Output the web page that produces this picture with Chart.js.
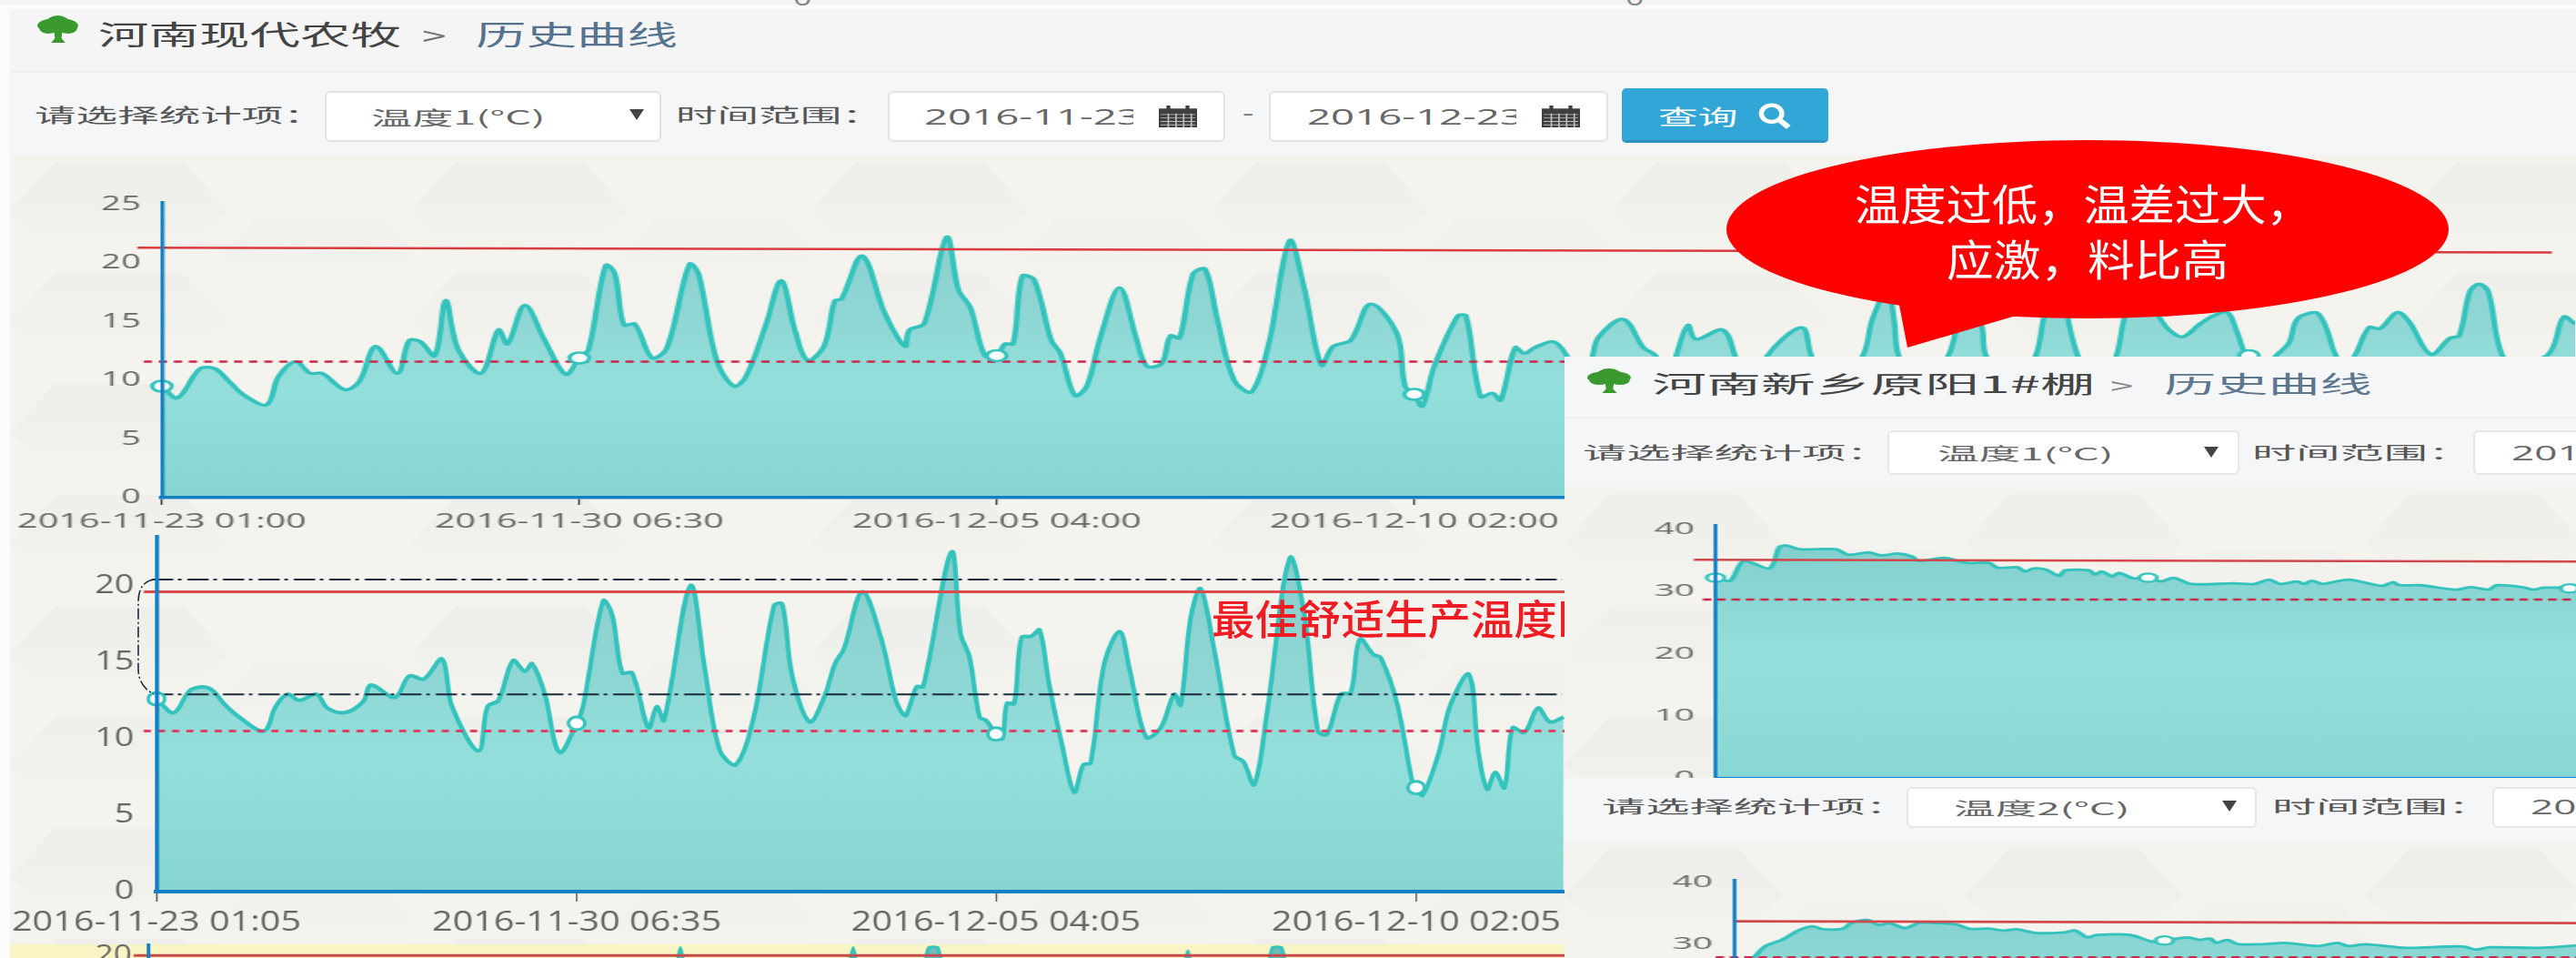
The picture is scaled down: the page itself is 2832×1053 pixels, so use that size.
<!DOCTYPE html>
<html><head><meta charset="utf-8">
<style>
html,body{margin:0;padding:0;background:#fff;width:2832px;height:1053px;overflow:hidden}
#stage{position:relative;width:2832px;height:1053px;overflow:hidden;filter:blur(.55px);background:#fbfbfb}
.box{position:absolute;box-sizing:border-box}
.tx{position:absolute;white-space:pre;transform-origin:0 50%;font-family:"Noto Sans CJK SC","Open Sans",sans-serif}
.num{font-family:"Open Sans","Noto Sans CJK SC",sans-serif}
canvas{position:absolute;left:0;top:0;transform-origin:0 0}
</style>
<script src="https://cdn.jsdelivr.net/npm/chart.js@4"></script>
</head><body><div id="stage"></div>
<script>
// ---------- data (x = sample number along the time axis) ----------
const x1 = [0,17,42,58,74,90,115,128,147,163,176,201,217,235,259,272,284,300,312,326,351,370,380,399,421,444,459,469,488,498,508,520,539,555,580,590,610,629,642,664,681,696,710,728,740,747,770,795,817,822,838,863,876,889,905,918,927,936,946,959,978,988,1004,1017,1032,1053,1071,1083,1099,1109,1119,1134,1147,1160,1179,1198,1217,1240,1256,1275,1288,1307,1329,1358,1367,1377,1386,1399,1425,1434,1450,1463,1472,1488,1498,1510,1530,1544,1560,1573,1580,1607,1629,1643,1654,1665,1678,1687,1716,1730,1748,1765,1803,1814,1838,1870,1880,1890,1897,1905,1910,1935,1964,1973,1985,1998,2002,2006,2035,2060,2069,2085,2096,2107,2128,2149,2158,2172,2197,2207,2222,2241,2256,2271,2281,2290,2295,2303,2315,2326,2339,2349,2371,2390,2400,2412,2427,2439,2458,2471,2495,2516,2526,2538,2548,2558,2573,2590,2624,2641,2654];
const y1 = [9.5,8.5,11,11,9.9,8.75,7.9,10.3,11.6,10.6,10.6,9.2,9.9,12.9,10.6,13.4,13.3,12.1,16.8,12.6,10.6,14.3,13.1,16.4,13.4,10.5,11.9,12.6,19.8,19.1,14.7,14.8,11.9,12.7,19.9,19.1,11.7,9.5,10.3,14.7,18.5,14.3,11.7,12.9,16.8,16.9,20.6,15.7,12.9,14.3,14.8,22.2,17.7,16.2,12.1,12.1,13.1,13.1,18.9,18.6,13.4,12.3,8.7,9.5,13.7,17.9,13.7,11.2,11.4,13.8,13.6,19.1,19.5,15.4,10,9,13.1,21.9,17.9,11.3,12.9,13.4,16.5,14,9.5,8.8,7.8,11.2,15.5,15.5,8.6,8.9,8.3,12.8,12.3,12.8,13.3,12.2,9.5,12.06,13.7,15.2,12.8,12.06,9,12.06,14.7,13.5,14.3,12.06,8.5,12.06,14.5,12.06,9,12.06,15,17,18.5,15,12.06,9,12.06,14.3,18,15.5,14.3,12.06,9,12,15.2,20,15.2,12.06,9,12.06,15.3,18,15.3,14.3,13.7,14.8,15.5,15.8,14.3,12.4,12.1,11.9,11.4,12.2,13.2,15.3,15.7,12.2,11,12.2,14.5,14.4,15.8,15,12.2,13.6,13.8,17.6,18.2,17.6,12.2,11.5,12.2,15.4,14.8];
const mark1x = [0,459,918,1377,2295];
const mark1y = [9.5,11.9,12.1,8.8,12.1];
const high1x = [-27,2628]; const high1y = [21.3,20.9];
const low1x = [-20,2654];  const low1y = [11.6,11.6];
const ticks1 = [0,459,918,1377];
const labels1 = ["2016-11-23 01:00","2016-11-30 06:30","2016-12-05 04:00","2016-12-10 02:00"];

const x2 = [0,19,38,58,74,89,118,131,144,157,176,188,207,227,236,262,278,294,314,325,354,364,376,392,405,413,427,443,462,469,491,501,512,523,541,550,558,587,603,619,637,657,679,688,699,718,734,746,756,776,797,813,823,828,836,843,874,884,894,905,912,923,930,935,943,951,962,971,981,996,1009,1019,1027,1042,1059,1070,1088,1104,1119,1126,1137,1148,1162,1185,1195,1207,1221,1246,1262,1277,1287,1302,1313,1323,1338,1346,1364,1381,1385,1392,1410,1422,1443,1453,1463,1472,1482,1491,1504,1519,1532,1547];
const y2 = [12.6,11.7,13.2,13.3,12.3,11.5,10.5,12.1,12.9,12.5,12.9,12,11.7,12.4,13.5,12.7,14.1,13.9,15.2,12.1,9.2,12.1,12.5,15.1,14.4,14.9,12.9,9.1,11,12.1,19,18.1,14.3,14.3,10.7,12.1,11.2,20,14.5,9.3,8.3,11.5,18.7,18.8,14.1,11.1,12.7,14.9,15.9,19.6,16.5,12.5,11.5,12.1,13.4,13.4,22.2,16.9,15.3,11.4,11.2,10.3,10,12.3,12.3,16.6,16.7,17.1,13.7,9.5,6.5,8.3,8.4,14.9,17,14.5,10.1,10.7,12.9,12.2,17.9,19.8,16.1,8.9,8.5,7,11.7,21.8,18.1,10.5,10.3,12.9,13,16.5,15.5,15.3,12.3,7.1,6.8,6.3,9.1,12.1,14.2,9.3,6.7,7.8,6.8,10.7,10.4,12,11.1,11.4];
const mark2x = [0,462,923,1385];
const mark2y = [12.6,11,10.3,6.8];
const high2x = [-14,1548]; const high2y = [19.6,19.6];
const low2x = [-14,1548];  const low2y = [10.5,10.5];
const band2x = [-5,1545];
const bandTop2y = [20.4,20.4];
const bandBottom2y = [12.9,12.9];
const ticks2 = [0,462,923,1385];
const labels2 = ["2016-11-23 01:05","2016-11-30 06:35","2016-12-05 04:05","2016-12-10 02:05"];

const x3 = [0,16,31,59,70,78,92,132,146,168,182,200,216,223,251,275,300,310,331,340,349,363,377,384,410,417,424,436,443,459,475,489,503,522,569,592,608,620,639,646,655,667,695,732,744,751,774,812,830,849,858,886,898,910,928,938,946];
const y3 = [32.2,31.7,34.9,33.7,37.1,37.4,36.8,36.8,35.9,36.3,35.8,36.1,35.6,34.9,35.4,34.6,34.6,33.8,33.9,33.2,33.7,33.5,32.5,33.4,33.4,32.7,33.2,32.4,33,32.1,32.2,31.6,32.2,31.2,31.3,31.2,31.9,31.2,31.6,31.2,31.7,31.2,31.9,30.9,31.5,31,31,30.3,30.7,30.3,31,30.7,30.3,30.6,30.6,30.5,30.6];
const mark3x = [0,475,938];
const mark3y = [32.2,32.2,30.5];
const high3x = [-24,946]; const high3y = [35.1,34.8];
const low3x = [-14,946];  const low3y = [28.7,28.7];

const x4 = [0,23,35,53,71,86,98,120,129,147,159,171,188,205,223,244,259,281,296,311,332,363,375,388,399,435,460,473,499,511,523,530,542,554,581,605,642,663,675,694,739,782,803,815,830,885,926];
const y4 = [25,28,29.7,30.7,32.2,32.9,32.4,32.5,33.4,33.9,33.1,33.4,32.6,33.5,33.4,33.2,32.5,32.5,32.2,32.4,31.8,31.9,32.2,31.1,31.5,31.5,30.4,30.6,31.1,30.7,30.9,30.2,30.7,30,30,30.2,29.7,30.2,29.7,30,29.4,29.6,29.6,29.1,29.5,29.4,29.8];
const mark4x = [473];
const mark4y = [30.6];
const high4x = [0,926]; const high4y = [33.7,33.4];
const low4x = [-20,926]; const low4y = [27.9,27.9];

const x5 = [0,570,578,585,592,600,760,768,775,782,790,848,853,858,868,873,880,1128,1136,1143,1150,1158,1226,1231,1236,1246,1251,1258,1557];
const y5 = [12,12,18,20.5,18,12,12,18,20.5,18,12,12,19,20.5,20.5,19,12,12,18,20.3,18,12,12,19,20.5,20.5,19,12,12];
const high5x = [-16,1557]; const high5y = [20,20];

// ---------- helpers ----------
const stage = document.getElementById('stage');
const TEAL = '#33c3bc', AX = '#1480c4', CJK = '"Noto Sans CJK SC","Open Sans",sans-serif', LAT = '"Open Sans","Noto Sans CJK SC",sans-serif';
const pts = (xs, ys) => xs.map((x, i) => ({x, y: ys[i]}));
function div(l, t, w, h, css, parent) {
  const d = document.createElement('div');
  d.className = 'box';
  d.style.cssText = `left:${l}px;top:${t}px;width:${w}px;height:${h}px;` + (css || '');
  (parent || stage).appendChild(d);
  return d;
}
function text(x, cy, s, size, color, sx, opts) {
  opts = opts || {};
  const e = document.createElement('div');
  e.className = 'tx' + (opts.num ? ' num' : '');
  e.textContent = s;
  const lh = size * 1.5;
  e.style.cssText += `left:${x}px;top:${cy - lh / 2}px;line-height:${lh}px;font-size:${size}px;color:${color};transform:scaleX(${sx});` +
    (opts.w ? `width:${opts.w}px;overflow:hidden;` : '') + (opts.weight ? `font-weight:${opts.weight};` : '');
  (opts.parent || stage).appendChild(e);
  return e;
}
function svg(l, t, w, h, inner, vb) {
  const wrap = document.createElement('div');
  wrap.className = 'box';
  wrap.style.cssText = `left:${l}px;top:${t}px;width:${w}px;height:${h}px;`;
  wrap.innerHTML = `<svg xmlns="http://www.w3.org/2000/svg" width="${w}" height="${h}" viewBox="${vb || `0 0 ${w} ${h}`}" preserveAspectRatio="none" style="display:block;overflow:visible">${inner}</svg>`;
  stage.appendChild(wrap);
}
const tree = (l, t, w, h) => svg(l, t, w, h,
  '<ellipse cx="22" cy="11" rx="22" ry="8" fill="#3a9a2f"/><ellipse cx="22" cy="9" rx="13" ry="9" fill="#3a9a2f"/><ellipse cx="12" cy="14" rx="10" ry="6" fill="#3a9a2f"/><ellipse cx="33" cy="14" rx="10" ry="6" fill="#3a9a2f"/><path d="M18 17h9l-1 8 4 5H15l4-5z" fill="#3a9a2f"/>', '0 0 45 31');
const cal = (l, t, w, h) => svg(l, t, w, h,
  '<rect x="0" y="3" width="20" height="19" fill="#3f3f3f"/><rect x="4" y="0" width="2" height="5" fill="#3f3f3f"/><rect x="14" y="0" width="2" height="5" fill="#3f3f3f"/><path d="M1 9H19M1 12.5H19M1 16H19M1 19.5H19M5 8V22M9 8V22M13 8V22M17 8V22" stroke="#bdbdbd" stroke-width=".8" fill="none"/>', '0 0 20 22');
const caret = (cx, cy) => svg(cx - 8, cy - 6, 16, 12, '<path d="M0 0H16L8 12z" fill="#444"/>');

const tile = encodeURIComponent(`<svg xmlns="http://www.w3.org/2000/svg" width="440" height="244"><defs><linearGradient id="g" x1="0" x2="0" y1="0" y2="1"><stop offset="0" stop-color="#eeeeea"/><stop offset=".55" stop-color="#f1f1ec"/><stop offset="1" stop-color="#f5f3ee"/></linearGradient></defs><rect width="440" height="244" fill="#f5f3ee"/><path d="M50 8H190L240 61 190 114H50L0 61z" fill="url(#g)"/><path d="M270 69H410L440 100V144L410 175H270L220 122z" fill="url(#g)" opacity=".55"/><path d="M50 130H190L240 183 190 236H50L0 183z" fill="url(#g)" opacity=".75"/></svg>`);
const hexBg = `background:#f5f3ee url("data:image/svg+xml,${tile}");`;

function makeChart(cfg) {
  const wrap = div(cfg.left, cfg.top, cfg.width, cfg.height, 'overflow:hidden;');
  const cv = document.createElement('canvas');
  cv.width = Math.round(cfg.canvasW / cfg.sx);
  cv.height = cfg.canvasH;
  wrap.appendChild(cv);
  const fillGrad = c => {
    const a = c.chart.chartArea;
    if (!a) return '#8fdcd8';
    const g = c.chart.ctx.createLinearGradient(0, a.top, 0, a.bottom);
    (cfg.stops || [[0, '#88cccc'], [.4, '#8fd7d5'], [.62, '#93dfdb'], [1, '#87d5d2']]).forEach(s => g.addColorStop(s[0], s[1]));
    return g;
  };
  const refLine = (xs, ys, color, w, dash) => ({data: pts(xs, ys), borderColor: color, borderWidth: w, borderDash: dash || [], pointRadius: 0, fill: false, tension: 0, clip: false, order: 1});
  const ds = [{data: pts(cfg.x, cfg.y), borderColor: TEAL, borderWidth: cfg.lw, backgroundColor: fillGrad, fill: 'origin', pointRadius: 0, tension: cfg.tension, order: 3}];
  cfg.lines.forEach(l => ds.push(refLine.apply(null, l)));
  if (cfg.mx) ds.push({data: pts(cfg.mx, cfg.my), showLine: false, pointRadius: cfg.mr, pointBackgroundColor: '#fdfdfd', pointBorderColor: '#35c4bd', pointBorderWidth: cfg.mw, clip: false, order: 0});
  new Chart(cv, {
    type: 'line',
    data: {datasets: ds},
    options: {
      responsive: false, animation: false, devicePixelRatio: 1,
      layout: {autoPadding: false, padding: {top: cfg.padTop, left: 0, right: 0, bottom: 0}},
      plugins: {legend: {display: false}, tooltip: {enabled: false}, title: {display: false}},
      scales: {
        x: {
          type: 'linear', min: 0, max: cfg.xMax,
          afterBuildTicks: s => { s.ticks = (cfg.ticks || []).map(v => ({value: v})); },
          afterFit: s => { s.height = cfg.xH; s.paddingLeft = 0; s.paddingRight = 0; },
          grid: {display: true, drawOnChartArea: false, drawTicks: true, tickLength: cfg.tickLen, color: '#444', lineWidth: 1.2, z: 1},
          border: {display: true, color: AX, width: cfg.axisX, z: 2},
          ticks: {autoSkip: false, maxRotation: 0, minRotation: 0, includeBounds: false, padding: cfg.xPad, color: '#666',
            font: {family: LAT, size: cfg.xFont || cfg.font},
            callback: v => { const i = (cfg.ticks || []).indexOf(v); return i >= 0 ? cfg.labels[i] : ''; }}
        },
        y: {
          min: 0, max: cfg.yMax,
          afterFit: s => { s.width = cfg.plotLeft / cfg.sx; s.paddingTop = 0; s.paddingBottom = 0; },
          grid: {display: false, drawTicks: false},
          border: {display: true, color: AX, width: cfg.axisY, z: 2},
          ticks: {stepSize: cfg.step, includeBounds: false, padding: cfg.yPad, color: '#666', font: {family: LAT, size: cfg.font}}
        }
      }
    }
  });
  cv.style.transform = `scaleX(${cfg.sx})`;
}

// ---------- left panel ----------
div(0, 0, 2832, 5, 'background:#f3f3f3;');
text(872, -3, '0', 24, '#888', 1.5, {num: true});
text(1787, -3, '0', 24, '#888', 1.5, {num: true});
div(11, 10, 2821, 70, 'background:#f5f5f6;border-bottom:2px solid #efefef;');
div(11, 80, 2821, 90, 'background:#f5f6f8;');
div(11, 170, 2821, 868, hexBg);
div(11, 1038, 1709, 15, 'background:#f8f4c4;');

tree(41, 17, 46, 31);
text(108, 36, '河南现代农牧', 30, '#444', 1.85);
text(464, 38, '>', 28, '#777', 1.7);
text(523, 36, '历史曲线', 30, '#55738f', 1.85);

text(38, 126, '请选择统计项：', 21, '#555', 2.17);
div(357, 100, 370, 56, 'background:#fff;border:2px solid #e3e3e3;border-radius:6px;');
text(408, 129, '温度1(°C)', 21, '#666', 2.15);
caret(700, 126);
text(743, 126, '时间范围：', 21, '#555', 2.17);
div(976, 100, 371, 56, 'background:#fff;border:2px solid #e3e3e3;border-radius:6px;');
text(1016, 128, '2016-11-23', 24, '#666', 1.9, {num: true, w: 121});
cal(1274, 116, 42, 24);
text(1366, 124, '-', 24, '#777', 1.6, {num: true});
div(1395, 100, 373, 56, 'background:#fff;border:2px solid #e3e3e3;border-radius:6px;');
text(1437, 128, '2016-12-23', 24, '#666', 1.9, {num: true, w: 121});
cal(1695, 116, 42, 24);
div(1783, 97, 227, 60, 'background:#32a6d6;border-radius:5px;border-bottom:3px solid #2a93c2;');
text(1823, 127, '查询', 23, '#fff', 1.9);
svg(1925, 113, 48, 28, '<circle cx="17" cy="11" r="8.5" stroke="#fff" stroke-width="4" fill="none" /><path d="M23 17L31 25" stroke="#fff" stroke-width="5"/>', '0 0 36 26');

// ---------- charts left ----------
makeChart({left: 0, top: 210, width: 2832, height: 380, canvasW: 2832, canvasH: 380, sx: 1.8, plotLeft: 178, padTop: 12, xH: 43,
  x: x1, y: y1, mx: mark1x, my: mark1y, mr: 6, mw: 2.6, lw: 3.4, tension: .35, xMax: 2654, yMax: 25.2, step: 5,
  ticks: ticks1, labels: labels1, font: 21, xFont: 22, tickLen: 8, xPad: 6, yPad: 13, axisX: 3.5, axisY: 2.4,
  lines: [[high1x, high1y, '#d93c3c', 2.5], [low1x, low1y, '#c9264a', 2.5, [5, 4.2]]]});

makeChart({left: 0, top: 585, width: 1720, height: 455, canvasW: 1720, canvasH: 455, sx: 1.3, plotLeft: 172, padTop: 5, xH: 60,
  x: x2, y: y2, mx: mark2x, my: mark2y, mr: 7, mw: 3, lw: 4, tension: .35, xMax: 1548, yMax: 23.2, step: 5,
  ticks: ticks2, labels: labels2, font: 29, xFont: 30.5, tickLen: 11, xPad: 5, yPad: 19, axisX: 4, axisY: 3.5,
  lines: [[high2x, high2y, '#dc4a4a', 3], [low2x, low2y, '#df3f63', 3, [6, 6]],
          [band2x, bandTop2y, '#1b2b3c', 2, [18, 4, 3, 5]], [band2x, bandBottom2y, '#1b2b3c', 2, [18, 4, 3, 5]]]});

makeChart({left: 0, top: 1035, width: 1720, height: 18, canvasW: 1720, canvasH: 380, sx: 1.3, plotLeft: 163, padTop: 3, xH: 12,
  x: x5, y: y5, lw: 3, tension: .2, xMax: 1557, yMax: 20.7, step: 5,
  ticks: [], labels: [], font: 27, tickLen: 4, xPad: 2, yPad: 14, axisX: 2, axisY: 3,
  stops: [[0, '#6fbcbc'], [1, '#7fcfcd']],
  lines: [[high5x, high5y, '#c9484c', 3]]});

svg(145, 630, 30, 140, '<path d="M24 7Q7 10 7 32L7 105Q7 124 24 133" stroke="#1b2b3c" stroke-width="1.6" stroke-dasharray="12 3 2 3" fill="none"/>');
text(1332, 679, '最佳舒适生产温度区', 45, '#f01c24', 1.055, {weight: 500});

// ---------- callout ----------
svg(1880, 140, 830, 260, '<ellipse cx="415" cy="112" rx="397" ry="98" fill="#ff0000"/><path d="M206 185L217 242L343 205z" fill="#ff0000"/>');
text(2039, 222, '温度过低，温差过大，', 47, '#fff', 1.07);
text(2140, 283, '应激，料比高', 47, '#fff', 1.1);

// ---------- right panel ----------
div(1720, 392, 1112, 661, 'background:#f5f6f8;');
div(1720, 458, 1112, 2, 'background:#efefef;');
div(1720, 535, 1112, 320, hexBg);
tree(1745, 405, 49, 28);
text(1816, 420, '河南新乡原阳1#棚', 26, '#444', 2.31);
text(2320, 423, '>', 24, '#888', 1.9);
text(2379, 420, '历史曲线', 26, '#5d7690', 2.2);

text(1740, 497, '请选择统计项：', 19, '#555', 2.54);
div(2075, 473, 387, 49, 'background:#fff;border:2px solid #e6e6e6;border-radius:6px;');
text(2130, 498, '温度1(°C)', 19, '#666', 2.4);
caret(2431, 497);
text(2476, 497, '时间范围：', 19, '#555', 2.54);
div(2719, 473, 140, 49, 'background:#fff;border:2px solid #e6e6e6;border-radius:6px;');
text(2761, 499, '2016-11-23', 21, '#666', 2.1, {num: true});

makeChart({left: 1720, top: 565, width: 1112, height: 290, canvasW: 1112, canvasH: 320, sx: 2.1, plotLeft: 166, padTop: 12, xH: 30,
  x: x3, y: y3, mx: mark3x, my: mark3y, mr: 4.6, mw: 2.2, lw: 2.8, tension: .3, xMax: 946, yMax: 40.7, step: 10,
  ticks: [], labels: [], font: 18.5, tickLen: 4, xPad: 2, yPad: 11, axisX: 2, axisY: 2,
  stops: [[0, '#80cccb'], [.5, '#93dfdb'], [1, '#8ad8d5']],
  lines: [[high3x, high3y, '#d2484a', 2.6], [low3x, low3y, '#c9264a', 2.4, [4.5, 3]]]});

div(1720, 855, 1112, 68, 'background:#f5f6f8;');
text(1761, 886, '请选择统计项：', 19, '#555', 2.54);
div(2096, 865, 385, 45, 'background:#fff;border:2px solid #e6e6e6;border-radius:6px;');
text(2148, 888, '温度2(°C)', 19, '#666', 2.4);
caret(2451, 886);
text(2498, 886, '时间范围：', 19, '#555', 2.54);
div(2740, 865, 120, 45, 'background:#fff;border:2px solid #e6e6e6;border-radius:6px;');
text(2782, 888, '2016-11-23', 21, '#666', 2.1, {num: true});
div(1720, 923, 1112, 130, hexBg);

makeChart({left: 1720, top: 958, width: 1112, height: 95, canvasW: 1112, canvasH: 314, sx: 2.1, plotLeft: 186, padTop: 9, xH: 30,
  x: x4, y: y4, mx: mark4x, my: mark4y, mr: 4.6, mw: 2.2, lw: 2.8, tension: .3, xMax: 926, yMax: 40.4, step: 10,
  ticks: [], labels: [], font: 18.5, tickLen: 4, xPad: 2, yPad: 11, axisX: 2, axisY: 2,
  stops: [[0, '#80cccb'], [.5, '#93dfdb'], [1, '#8ad8d5']],
  lines: [[high4x, high4y, '#d2484a', 2.6], [low4x, low4y, '#c9264a', 2.4, [4.5, 3]]]});
</script></body></html>
